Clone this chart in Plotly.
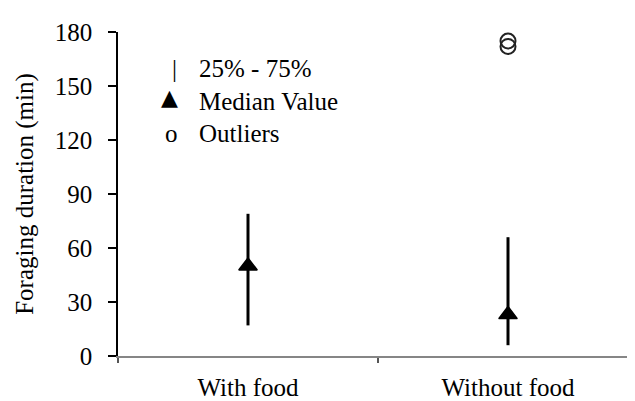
import plotly.graph_objects as go

# ---- data ----
categories = ["With food", "Without food"]
q25 = [17, 6]
q75 = [79, 66]
medians = [50, 23]
outlier_cats = ["Without food", "Without food"]
outlier_vals = [175, 172]
y_ticks = [0, 30, 60, 90, 120, 150, 180]

FONT = "Liberation Serif"
FS = 25

fig = go.Figure()

# 25%-75% ranges as vertical lines
xs, ys = [], []
for c, lo, hi in zip(categories, q25, q75):
    xs += [c, c, None]
    ys += [lo, hi, None]
fig.add_trace(go.Scatter(x=xs, y=ys, mode="lines",
                         line=dict(color="black", width=3),
                         showlegend=False, hoverinfo="skip"))

# medians
fig.add_trace(go.Scatter(x=categories, y=medians, mode="markers",
                         marker=dict(symbol="triangle-up", size=16, color="black",
                                     line=dict(color="black", width=1.5)),
                         showlegend=False))

# outliers
fig.add_trace(go.Scatter(x=outlier_cats, y=outlier_vals, mode="markers",
                         marker=dict(symbol="circle-open", size=15, color="#222222",
                                     line=dict(color="#222222", width=2)),
                         showlegend=False))

L, R, T, B = 110, 5, 24, 52.5
W, H = 635, 401
pw = W - L - R
ph = H - T - B

def px(xp):
    return (xp - L) / pw

def py(yp):
    return (H - B - yp) / ph

ann = []
# legend built from text
ann.append(dict(x=px(166), y=py(61), text="|", showarrow=False, xanchor="center", yanchor="middle",
                xref="paper", yref="paper",
                font=dict(family=FONT, size=FS, color="black")))
ann.append(dict(x=px(161), y=py(90), text="▲", showarrow=False, xanchor="center", yanchor="middle",
                xref="paper", yref="paper",
                font=dict(family="DejaVu Sans", size=22, color="black")))
ann.append(dict(x=px(163), y=py(126), text="o", showarrow=False, xanchor="center", yanchor="middle",
                xref="paper", yref="paper",
                font=dict(family=FONT, size=FS, color="black")))
for label, yc in [("25% - 75%", 61), ("Median Value", 94), ("Outliers", 126)]:
    ann.append(dict(x=px(189), y=py(yc), text=label, showarrow=False, xanchor="left", yanchor="middle",
                    xref="paper", yref="paper",
                    font=dict(family=FONT, size=FS, color="black")))

fig.update_layout(
    width=W, height=H,
    margin=dict(l=L, r=R, t=T, b=B, pad=0),
    paper_bgcolor="white", plot_bgcolor="white",
    font=dict(family=FONT, size=FS, color="black"),
    showlegend=False,
    annotations=ann,
    xaxis=dict(type="category", categoryorder="array", categoryarray=categories,
               range=[-0.5, 1.5], showgrid=False, zeroline=False,
               showline=True, linecolor="#868686", linewidth=1.5,
               ticks="outside", tickson="boundaries", ticklen=5, tickcolor="#555555", tickwidth=1.5,
               ticklabelstandoff=8,
               tickfont=dict(family=FONT, size=FS, color="black"), automargin=False),
    yaxis=dict(range=[0, 180], tickvals=y_ticks, showgrid=False, zeroline=False,
               showline=True, linecolor="black", linewidth=1.5,
               ticks="outside", ticklen=8, tickcolor="black", tickwidth=1.5,
               ticklabelstandoff=11,
               tickfont=dict(family=FONT, size=FS, color="black"), automargin=False,
               title=dict(text="Foraging duration (min)", font=dict(family=FONT, size=FS, color="black"),
                          standoff=14)),
)

fig.write_html("out.html")
